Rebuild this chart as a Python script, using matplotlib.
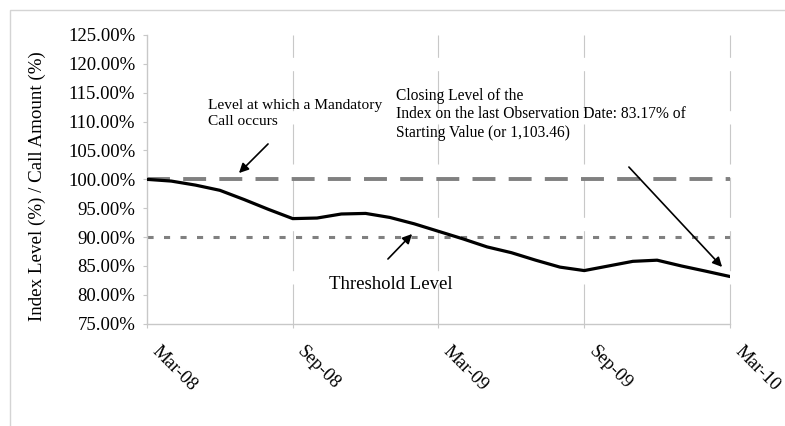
import matplotlib.pyplot as plt
from matplotlib.patches import Rectangle
from matplotlib.transforms import ScaledTranslation, blended_transform_factory

plt.rcParams['font.family'] = ['Liberation Serif', 'DejaVu Serif']

# monthly index level (% of starting value), Mar-08 .. Mar-10
month_index = list(range(25))
index_level = [100.0, 99.7, 99.0, 98.1, 96.5, 94.8, 93.2, 93.3, 94.0, 94.1,
               93.4, 92.3, 91.0, 89.7, 88.3, 87.3, 86.0, 84.8, 84.2, 85.0,
               85.8, 86.0, 85.0, 84.1, 83.17]
call_level = 100.0
threshold_level = 90.0

tick_positions = [0, 6, 12, 18, 24]
tick_labels = ["Mar-08", "Sep-08", "Mar-09", "Sep-09", "Mar-10"]
y_ticks = [75, 80, 85, 90, 95, 100, 105, 110, 115, 120, 125]

W, H = 785, 426
fig = plt.figure(figsize=(W / 100, H / 100), dpi=100)
ax = fig.add_axes([147 / W, 1 - 323.7 / H, (730 - 147) / W, (323.7 - 35) / H])

# outer light frame
fig.patches.append(Rectangle((10 / W, -0.1), 1.2, 1 - 10 / H + 0.1,
                             transform=fig.transFigure, fill=False,
                             edgecolor="#d4d4d4", lw=1.0))

grid_color = "#c8c8c8"
for xp in tick_positions[1:]:
    ax.axvline(xp, color=grid_color, lw=0.8, linestyle=(0, (36, 12)),
               zorder=1, clip_on=False)

# reference lines
ax.plot([month_index[0], month_index[-1]], [call_level, call_level],
        color="#808080", lw=2.8, linestyle=(0, (5.9, 3.4)), zorder=2)
ax.plot([month_index[0], month_index[-1]], [threshold_level, threshold_level],
        color="#808080", lw=2.2, linestyle=(0, (2.0, 3.4)), zorder=2)

# index line
ax.plot(month_index, index_level, color="black", lw=2.3, zorder=3,
        solid_joinstyle="round", solid_capstyle="round")

ax.set_xlim(0, 24)
ax.set_ylim(75, 125)
ax.set_yticks(y_ticks)
ax.set_yticklabels([f"{v:.2f}%" for v in y_ticks])
ax.set_xticks(tick_positions)
ax.set_xticklabels([])

for side in ["top", "right"]:
    ax.spines[side].set_visible(False)
for side in ["left", "bottom"]:
    ax.spines[side].set_color(grid_color)
    ax.spines[side].set_linewidth(1.0)

ax.tick_params(axis="y", length=3, color=grid_color, labelsize=13.5, pad=5.5)
ax.tick_params(axis="x", length=3, color=grid_color)

# rotated month labels, offset from the tick
lab_trans = blended_transform_factory(ax.transData, ax.transAxes) + \
    ScaledTranslation(0.135, -0.19, fig.dpi_scale_trans)
for xp, lab in zip(tick_positions, tick_labels):
    ax.text(xp, 0, lab, transform=lab_trans, rotation=-45, ha="left", va="top",
            rotation_mode="anchor", fontsize=13.5, clip_on=False)

ax.set_ylabel("Index Level (%) / Call Amount (%)", fontsize=13.7)
ax.yaxis.set_label_coords(-0.174, 0.477)

arrow = dict(arrowstyle="-|>", color="black", lw=1.2, mutation_scale=14)

def px(x, y):
    return (x / W, 1 - y / H)

ax.annotate("", xy=px(237, 175), xytext=px(270, 142), xycoords="figure fraction",
            textcoords="figure fraction", arrowprops=arrow)
ax.annotate("", xy=px(414, 232), xytext=px(386, 261), xycoords="figure fraction",
            textcoords="figure fraction", arrowprops=arrow)
ax.annotate("", xy=px(724, 269), xytext=px(627, 165), xycoords="figure fraction",
            textcoords="figure fraction", arrowprops=arrow)

fig.text(*px(208, 99), "Level at which a Mandatory\nCall occurs",
         fontsize=11.1, va="top", ha="left", linespacing=1.3)
fig.text(*px(396, 88),
         "Closing Level of the\nIndex on the last Observation Date: 83.17% of\nStarting Value (or 1,103.46)",
         fontsize=11.2, va="top", ha="left", linespacing=1.2)
fig.text(*px(329, 289), "Threshold Level", fontsize=13.5, va="baseline", ha="left")

fig.savefig("out.png", dpi=100)
